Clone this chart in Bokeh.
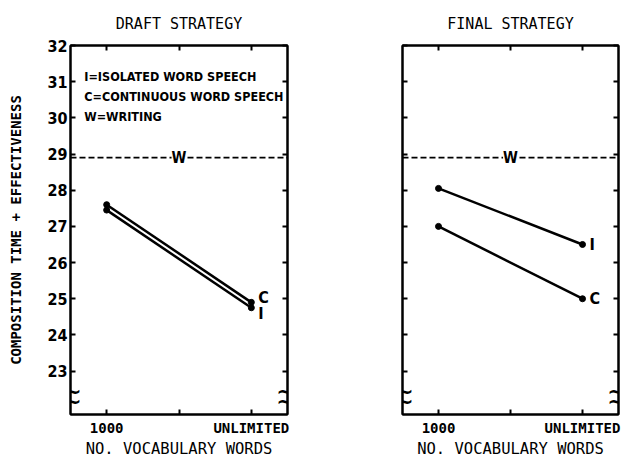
from bokeh.plotting import figure
from bokeh.layouts import row
from bokeh.models import LinearAxis, FixedTicker, Label, Span, Range1d, ColumnDataSource
from bokeh.core.properties import value
from bokeh.embed import file_html
from bokeh.resources import INLINE

# ---- data ----
x_positions = [0, 2]
x_tick_positions = [0, 1, 2]
x_tick_labels = ["1000", "", "UNLIMITED"]
y_ticks = [23, 24, 25, 26, 27, 28, 29, 30, 31, 32]
draft_I = [27.45, 24.75]
draft_C = [27.6, 24.9]
final_I = [28.05, 26.5]
final_C = [27.0, 25.0]
writing_level = 28.9
legend_lines = ["I=ISOLATED WORD SPEECH", "C=CONTINUOUS WORD SPEECH", "W=WRITING"]
legend_y = [31.15, 30.6, 30.05]
y_break = 22.3

TITLE_FONT = "DejaVu Sans Mono"
BOLD_FONT = "DejaVu Sans Condensed, DejaVu Sans"


def style_axis(ax, ticks, labels=True):
    ax.axis_line_color = "black"
    ax.axis_line_width = 2
    ax.major_tick_in = 5
    ax.major_tick_out = 0
    ax.major_tick_line_width = 2
    ax.minor_tick_line_color = None
    ax.major_label_text_color = "black"
    ax.axis_label_text_color = "black"
    if not labels:
        ax.major_label_overrides = {t: "" for t in ticks}
        ax.major_label_standoff = 0


def make_panel(title, I_vals, C_vals, left_labels, min_left, min_right, frame_w,
               i_offset, c_offset):
    p = figure(frame_width=frame_w, frame_height=369, output_backend="svg",
               toolbar_location=None, x_range=Range1d(-0.5, 2.5),
               y_range=Range1d(21.8, 32), min_border_left=min_left,
               min_border_right=min_right, min_border_top=45, min_border_bottom=40,
               x_axis_location=None, y_axis_location=None)
    p.title.text = title
    p.title.align = "center"
    p.title.text_font = TITLE_FONT
    p.title.text_font_size = "15px"
    p.title.text_font_style = "normal"
    p.title.text_color = "black"
    p.title.standoff = 25
    p.grid.visible = False
    p.outline_line_color = "black"
    p.outline_line_width = 2
    p.background_fill_color = "white"
    p.border_fill_color = "white"

    xt = FixedTicker(ticks=x_tick_positions)
    yt = FixedTicker(ticks=y_ticks)

    xb = LinearAxis(ticker=xt, axis_label="NO. VOCABULARY WORDS")
    style_axis(xb, x_tick_positions)
    xb.major_label_overrides = {k: v for k, v in zip(x_tick_positions, x_tick_labels)}
    xb.major_label_text_font = TITLE_FONT
    xb.major_label_text_font_style = "bold"
    xb.major_label_text_font_size = "14px"
    xb.major_label_standoff = 5
    xb.axis_label_text_font = TITLE_FONT
    xb.axis_label_text_font_style = "normal"
    xb.axis_label_text_font_size = "15.5px"
    xb.axis_label_standoff = 1
    p.add_layout(xb, "below")

    xa = LinearAxis(ticker=xt)
    style_axis(xa, x_tick_positions, labels=False)
    p.add_layout(xa, "above")

    yl = LinearAxis(ticker=yt)
    style_axis(yl, y_ticks, labels=left_labels)
    if left_labels:
        yl.axis_label = "COMPOSITION TIME + EFFECTIVENESS"
        yl.axis_label_text_font = TITLE_FONT
        yl.axis_label_text_font_style = "bold"
        yl.axis_label_text_font_size = "14px"
        yl.axis_label_standoff = 20
        yl.major_label_text_font = BOLD_FONT
        yl.major_label_text_font_style = "bold"
        yl.major_label_text_font_size = "16px"
        yl.major_label_standoff = 3
    p.add_layout(yl, "left")

    yr = LinearAxis(ticker=yt)
    style_axis(yr, y_ticks, labels=False)
    p.add_layout(yr, "right")

    # writing reference
    p.add_layout(Span(location=writing_level, dimension="width", line_color="black",
                      line_width=1.8, line_dash="6 3"))
    p.add_layout(Label(x=1, y=writing_level, text="W", text_align="center",
                       text_baseline="middle", text_font=BOLD_FONT,
                       text_font_style="bold", text_font_size="15px",
                       text_color="black", background_fill_color="white"))

    for vals, lab, off in [(I_vals, "I", i_offset), (C_vals, "C", c_offset)]:
        src = ColumnDataSource(dict(x=x_positions, y=vals))
        p.line("x", "y", source=src, line_color="black", line_width=2.5)
        p.scatter("x", "y", source=src, size=6, color="black")
        p.add_layout(Label(x=x_positions[-1], y=vals[-1], text=lab, x_offset=7,
                           y_offset=off, text_baseline="middle",
                           text_font=BOLD_FONT, text_font_style="bold",
                           text_font_size="16px", text_color="black"))

    # axis breaks
    for xe, xo in [(-0.5, 2), (2.5, -2)]:
        for dy in [0.13, -0.13]:
            p.add_layout(Label(x=xe, y=y_break + dy, x_offset=xo, text="~",
                               text_align="center", text_baseline="middle",
                               text_font="DejaVu Sans", text_font_style="bold",
                               text_font_size="22px", text_color="black"))
    return p


p1 = make_panel("DRAFT STRATEGY", draft_I, draft_C, True, 70, 21, 217, -6, 5)
for txt, yy in zip(legend_lines, legend_y):
    p1.add_layout(Label(x=-0.31, y=yy, text=txt, text_baseline="middle",
                        text_font=BOLD_FONT, text_font_style="bold",
                        text_font_size="12.5px", text_color="black"))
p2 = make_panel("FINAL STRATEGY", final_I, final_C, False, 94, 8, 216, 0, 0)

layout = row(p1, p2)
open("out.html", "w").write(file_html(layout, INLINE))
